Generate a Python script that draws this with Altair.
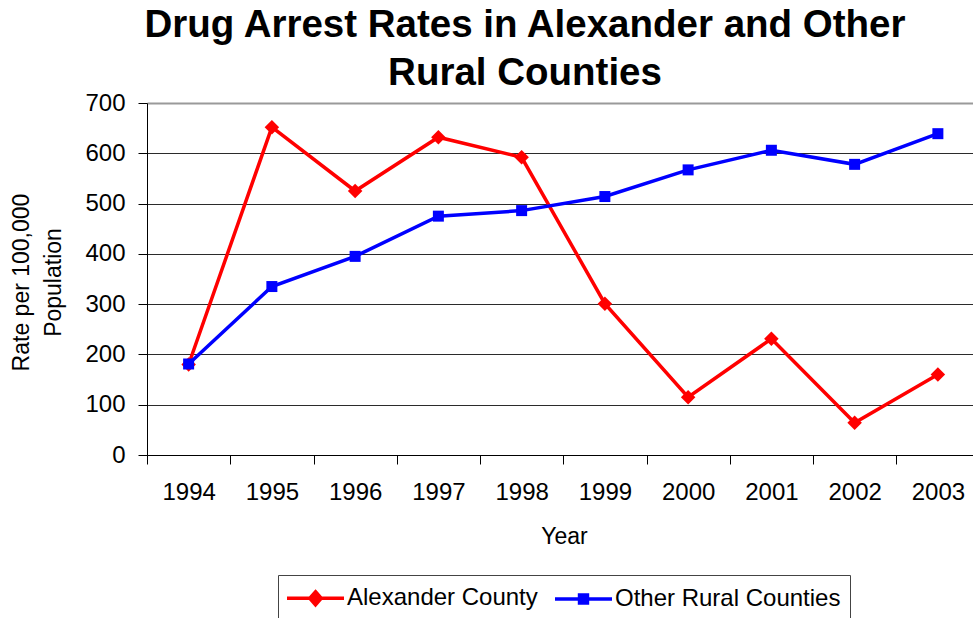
import altair as alt
import pandas as pd

# Annual drug arrest rates per 100,000 population
years = ["1994", "1995", "1996", "1997", "1998", "1999", "2000", "2001", "2002", "2003"]
alexander = [180, 652, 525, 632, 592, 301, 115, 231, 64, 160]
other_rural = [181, 335, 395, 475, 486, 514, 567, 606, 578, 639]
series_names = ["Alexander County", "Other Rural Counties"]
series_colors = ["#FF0000", "#0000FF"]
y_ticks = [0, 100, 200, 300, 400, 500, 600, 700]

df = pd.DataFrame(
    {
        "year": years * 2,
        "rate": alexander + other_rural,
        "series": [series_names[0]] * len(years) + [series_names[1]] * len(years),
    }
)

FONT = "Liberation Sans"

# legend glyphs: a line wider than the symbol box, with the series marker in the middle
diamond_glyph = "M-2.375,0H2.375M0,-0.54L0.475,0L0,0.54L-0.475,0Z"
square_glyph = "M-2.375,0H2.375M-0.33,-0.33H0.33V0.33H-0.33Z"
is_first = "datum.value === '%s'" % series_names[0]

x_enc = alt.X(
    "year:O",
    bandPosition=0.5,
    scale=alt.Scale(type="band", range=[0, 832.5], paddingInner=0, paddingOuter=0),
    axis=alt.Axis(
        title="Year",
        tickBand="extent",
        grid=False,
        labelAngle=0,
        labelFont=FONT,
        labelFontSize=24,
        labelColor="black",
        labelPadding=16,
        tickSize=9,
        tickColor="black",
        domainColor="black",
        titleFont=FONT,
        titleFontSize=23,
        titleFontWeight="normal",
        titleColor="black",
        titleX=417,
        titleY=88,
        titleAlign="center",
        titleBaseline="alphabetic",
    ),
)

y_enc = alt.Y(
    "rate:Q",
    scale=alt.Scale(domain=[0, 700], nice=False),
    axis=alt.Axis(
        title=["Rate per 100,000", "Population"],
        values=y_ticks,
        grid=True,
        gridColor=alt.condition("datum.value === 700", alt.value("#9a9a9a"), alt.value("#2b2b2b")),
        gridWidth=alt.condition("datum.value === 700", alt.value(2), alt.value(1)),
        labelFont=FONT,
        labelFontSize=24,
        labelColor="black",
        labelPadding=13,
        tickSize=9,
        tickColor="black",
        domainColor="black",
        titleFont=FONT,
        titleFontSize=23,
        titleFontWeight="normal",
        titleColor="black",
        titleAngle=270,
        titleX=-119,
        titleY=179,
        titleAlign="center",
        titleBaseline="alphabetic",
        titleLineHeight=32,
    ),
)

color_scale = alt.Scale(domain=series_names, range=series_colors)

lines = (
    alt.Chart(df)
    .mark_line(strokeWidth=3.5)
    .encode(
        x=x_enc,
        y=y_enc,
        color=alt.Color(
            "series:N",
            scale=color_scale,
            legend=alt.Legend(
                title=None,
                orient="none",
                direction="horizontal",
                legendX=131,
                legendY=472,
                labelFont=FONT,
                labelFontSize=24,
                labelColor="black",
                labelLimit=400,
                labelOffset=17.5,
                columnPadding=10,
                padding=9,
                symbolSize=576,
                symbolOffset=14.5,
                symbolStrokeWidth=3.5,
                symbolType=alt.ExprRef(
                    expr="%s ? '%s' : '%s'" % (is_first, diamond_glyph, square_glyph)
                ),
                symbolFillColor=alt.ExprRef(
                    expr="%s ? '%s' : '%s'" % (is_first, series_colors[0], series_colors[1])
                ),
                strokeColor="#444444",
                fillColor="white",
            ),
        ),
    )
)


def markers(name, shape, size):
    return (
        alt.Chart(df)
        .transform_filter(alt.datum.series == name)
        .mark_point(filled=True, opacity=1, shape=shape, size=size)
        .encode(
            x=x_enc,
            y=y_enc,
            color=alt.Color("series:N", scale=color_scale, legend=None),
        )
    )


chart = (
    alt.layer(
        lines,
        markers(series_names[0], "diamond", 210),
        markers(series_names[1], "square", 121),
    )
    .properties(
        width=826,
        height=352,
        autosize=alt.AutoSizeParams(type="none"),
        padding={"left": 147, "top": 103, "right": 0, "bottom": 163},
        background="white",
        title=alt.TitleParams(
            text=["Drug Arrest Rates in Alexander and Other", "Rural Counties"],
            font=FONT,
            fontSize=38.5,
            fontWeight="bold",
            color="black",
            anchor="middle",
            lineHeight=48,
            offset=10,
            dx=-35,
            dy=12,
        ),
    )
    .configure_view(stroke=None)
)

chart.save("out.html", embed_options={"renderer": "svg", "actions": False})
